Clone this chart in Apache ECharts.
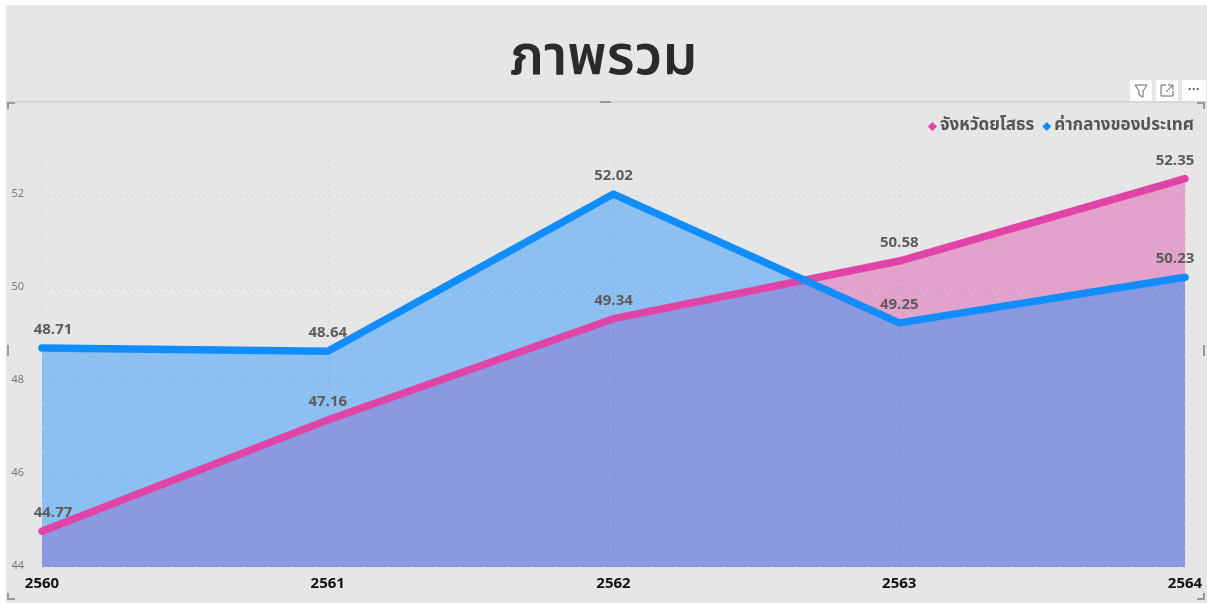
<!DOCTYPE html>
<html>
<head>
<meta charset="utf-8">
<script src="https://cdn.jsdelivr.net/npm/echarts@6/dist/echarts.min.js"></script>
<style>
html,body{margin:0;padding:0;background:#ffffff;}
#chart{width:1207px;height:603px;}
</style>
</head>
<body>
<div id="chart"></div>
<script>
const title = 'ภาพรวม';
const categories = ['2560', '2561', '2562', '2563', '2564'];
const provinceName = 'จังหวัดยโสธร';
const provinceValues = [44.77, 47.16, 49.34, 50.58, 52.35];
const nationName = 'ค่ากลางของประเทศ';
const nationValues = [48.71, 48.64, 52.02, 49.25, 50.23];

const PINK = '#E044A7';
const BLUE = '#118DFF';
const FONT = '"Noto Sans Thai","Noto Sans","Open Sans","DejaVu Sans",sans-serif';

function labelled(values) {
  const last = values.length - 1;
  return values.map((v, i) => {
    const item = { value: v };
    if (i === 0) item.label = { offset: [11, 0] };
    if (i === last) item.label = { offset: [-10, 0] };
    return item;
  });
}

const labelStyle = {
  show: true, position: 'top', distance: 9,
  fontSize: 15, fontWeight: 'bold', color: '#5c5c5c', fontFamily: FONT,
  formatter: p => p.value.toFixed(2)
};

const chart = echarts.init(document.getElementById('chart'), null, { renderer: 'canvas' });
chart.setOption({
  backgroundColor: '#ffffff',
  animation: false,
  graphic: [
    { type: 'rect', z: -10, shape: { x: 6, y: 5, width: 1201, height: 598 }, style: { fill: '#E6E6E6' } },
    { type: 'line', z: 1, shape: { x1: 6, y1: 102, x2: 1207, y2: 102 }, style: { stroke: '#c8c8c8', lineWidth: 1 } },
    { type: 'polyline', z: 1, shape: { points: [[8, 109], [8, 103], [15, 103]] }, style: { stroke: '#9a9a9a', lineWidth: 2, fill: null } },
    { type: 'polyline', z: 1, shape: { points: [[1197, 103], [1204, 103], [1204, 109]] }, style: { stroke: '#9a9a9a', lineWidth: 2, fill: null } },
    { type: 'polyline', z: 1, shape: { points: [[8, 593], [8, 599], [15, 599]] }, style: { stroke: '#9a9a9a', lineWidth: 2, fill: null } },
    { type: 'polyline', z: 1, shape: { points: [[1197, 599], [1204, 599], [1204, 593]] }, style: { stroke: '#9a9a9a', lineWidth: 2, fill: null } },
    { type: 'line', z: 1, shape: { x1: 8, y1: 345, x2: 8, y2: 356 }, style: { stroke: '#9a9a9a', lineWidth: 2 } },
    { type: 'line', z: 1, shape: { x1: 1204, y1: 345, x2: 1204, y2: 356 }, style: { stroke: '#9a9a9a', lineWidth: 2 } },
    { type: 'line', z: 1, shape: { x1: 600, y1: 102, x2: 611, y2: 102 }, style: { stroke: '#9a9a9a', lineWidth: 2 } },
    { type: 'rect', z: 1, shape: { x: 1130, y: 80, width: 22, height: 21 }, style: { fill: '#ffffff' } },
    { type: 'rect', z: 1, shape: { x: 1156, y: 80, width: 22, height: 21 }, style: { fill: '#ffffff' } },
    { type: 'rect', z: 1, shape: { x: 1182, y: 80, width: 24, height: 21 }, style: { fill: '#ffffff' } },
    { type: 'polyline', z: 2, shape: { points: [[1135, 85], [1147, 85], [1143, 91], [1143, 97], [1139, 95], [1139, 91], [1135, 85]] }, style: { stroke: '#666', lineWidth: 1, fill: null } },
    { type: 'polyline', z: 2, shape: { points: [[1166, 85], [1161, 85], [1161, 96], [1173, 96], [1173, 91]] }, style: { stroke: '#666', lineWidth: 1, fill: null } },
    { type: 'polyline', z: 2, shape: { points: [[1168, 85], [1173, 85], [1173, 90]] }, style: { stroke: '#666', lineWidth: 1, fill: null } },
    { type: 'line', z: 2, shape: { x1: 1173, y1: 85, x2: 1166, y2: 92 }, style: { stroke: '#666', lineWidth: 1 } },
    { type: 'text', z: 2, x: 1194, y: 84, style: { text: '···', fill: '#555', font: 'bold 12px sans-serif', textAlign: 'center' } }
  ],
  title: {
    text: title, left: 'center', top: 30,
    textStyle: { fontSize: 55, fontWeight: 600, color: '#2b2b2b', fontFamily: FONT }
  },
  legend: {
    data: [provinceName, nationName],
    right: 8, top: 113,
    icon: 'diamond', itemWidth: 9, itemHeight: 9, itemGap: 8,
    textStyle: { fontSize: 17, fontWeight: 'bold', color: '#555555', fontFamily: FONT, padding: [0, 0, 0, -2] }
  },
  grid: { left: 42, right: 22, top: 148.5, bottom: 36, containLabel: false },
  xAxis: {
    type: 'category', data: categories, boundaryGap: false,
    axisLine: { show: false }, axisTick: { show: false },
    axisLabel: { fontSize: 15, fontWeight: 'bold', color: '#111111', margin: 10, fontFamily: FONT },
    splitLine: { show: true, lineStyle: { type: [1, 5], color: '#c4c4c4', width: 1 } }
  },
  yAxis: {
    type: 'value', min: 44, max: 53, interval: 2,
    axisLine: { show: false }, axisTick: { show: false },
    axisLabel: { fontSize: 11, color: '#7a7a7a', margin: 18, showMaxLabel: false, fontFamily: FONT,
      formatter: v => (v % 2 === 0 ? String(v) : '') },
    splitLine: { show: true, showMaxLine: false, lineStyle: { type: [1, 5], color: '#c4c4c4', width: 1 } }
  },
  series: [
    { name: provinceName + ' area', type: 'line', data: provinceValues, symbol: 'none', z: 1,
      lineStyle: { width: 0 }, areaStyle: { color: PINK, opacity: 0.42 }, itemStyle: { color: PINK }, silent: true },
    { name: nationName + ' area', type: 'line', data: nationValues, symbol: 'none', z: 2,
      lineStyle: { width: 0 }, areaStyle: { color: BLUE, opacity: 0.42 }, itemStyle: { color: BLUE }, silent: true },
    { name: provinceName, type: 'line', data: labelled(provinceValues), z: 3,
      symbol: 'circle', symbolSize: 1, showSymbol: true,
      itemStyle: { color: PINK }, lineStyle: { color: PINK, width: 7.5, cap: 'round', join: 'round' },
      label: labelStyle },
    { name: nationName, type: 'line', data: labelled(nationValues), z: 4,
      symbol: 'circle', symbolSize: 1, showSymbol: true,
      itemStyle: { color: BLUE }, lineStyle: { color: BLUE, width: 7.5, cap: 'round', join: 'round' },
      label: labelStyle }
  ]
});
</script>
</body>
</html>
